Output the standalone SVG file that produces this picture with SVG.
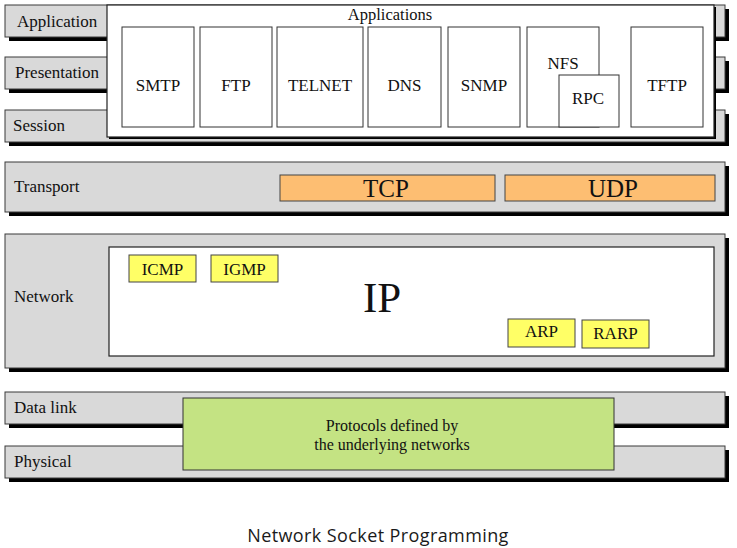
<svg xmlns="http://www.w3.org/2000/svg" width="737" height="548" viewBox="0 0 737 548">
<style>
text{font-family:"Liberation Serif","Times New Roman",serif;fill:#111;}
.shadow{fill:#000;}
.bar{fill:#d9d9d9;stroke:#3a3a3a;stroke-width:1;}
.white{fill:#fff;stroke:#222;stroke-width:1.2;}
.app{fill:#fff;stroke:#333;stroke-width:1;}
.lbl{font-size:17px;}
.ctr{text-anchor:middle;}
.orange{fill:#fdbe72;stroke:#444;stroke-width:1;}
.yellow{fill:#ffff66;stroke:#444;stroke-width:1;}
.green{fill:#c4e383;stroke:#333;stroke-width:1;}
.note{font-size:16px;}
.cap{font-family:"Open Sans","Noto Sans","Liberation Sans",sans-serif;font-size:18px;letter-spacing:0.4px;fill:#1a1a1a;}
</style>
<rect width="737" height="548" fill="#fff"/>

<g id="layer-application">
<rect class="shadow" x="9" y="9" width="720" height="32"/>
<rect class="bar" x="5" y="5" width="720" height="32"/>
<text class="lbl" x="17" y="27">Application</text>
</g>
<g id="layer-presentation">
<rect class="shadow" x="9" y="61" width="720" height="32"/>
<rect class="bar" x="5" y="57" width="720" height="32"/>
<text class="lbl" x="15" y="78">Presentation</text>
</g>
<g id="layer-session">
<rect class="shadow" x="9" y="114" width="720" height="32"/>
<rect class="bar" x="5" y="110" width="720" height="32"/>
<text class="lbl" x="13" y="131">Session</text>
</g>

<g id="applications">
<rect class="shadow" x="109" y="7" width="607" height="132"/>
<rect class="white" x="107" y="5" width="607" height="132"/>
<text class="ctr" x="390" y="20" font-size="16.5">Applications</text>
</g>
<g id="smtp"><rect class="app" x="122" y="27" width="72" height="100"/><text class="lbl ctr" x="158" y="91">SMTP</text></g>
<g id="ftp"><rect class="app" x="200" y="27" width="72" height="100"/><text class="lbl ctr" x="236" y="91">FTP</text></g>
<g id="telnet"><rect class="app" x="277" y="27" width="86" height="100"/><text class="lbl ctr" x="320" y="91">TELNET</text></g>
<g id="dns"><rect class="app" x="368" y="27" width="73" height="100"/><text class="lbl ctr" x="404.5" y="91">DNS</text></g>
<g id="snmp"><rect class="app" x="448" y="27" width="72" height="100"/><text class="lbl ctr" x="484" y="91">SNMP</text></g>
<g id="nfs"><rect class="app" x="527" y="27" width="72" height="100"/><text class="lbl ctr" x="563" y="69">NFS</text></g>
<g id="rpc"><rect class="app" x="559" y="75" width="60" height="52"/><text class="lbl ctr" x="588" y="104">RPC</text></g>
<g id="tftp"><rect class="app" x="631" y="27" width="72" height="100"/><text class="lbl ctr" x="667" y="91">TFTP</text></g>

<g id="layer-transport">
<rect class="shadow" x="9" y="166" width="720" height="50"/>
<rect class="bar" x="5" y="162" width="720" height="50"/>
<text class="lbl" x="14" y="192">Transport</text>
</g>
<g id="tcp"><rect class="orange" x="280" y="175" width="215" height="26"/><text class="ctr" x="386" y="197" font-size="25">TCP</text></g>
<g id="udp"><rect class="orange" x="505" y="175" width="210" height="26"/><text class="ctr" x="613" y="197" font-size="25">UDP</text></g>

<g id="layer-network">
<rect class="shadow" x="9" y="238" width="720" height="134"/>
<rect class="bar" x="5" y="234" width="720" height="134"/>
<text class="lbl" x="14" y="302">Network</text>
</g>
<g id="ip">
<rect class="white" x="109" y="247" width="605" height="109"/>
<text class="ctr" x="382" y="312" font-size="43">IP</text>
</g>
<g id="icmp"><rect class="yellow" x="129" y="255" width="67" height="27"/><text class="lbl ctr" x="162.5" y="275">ICMP</text></g>
<g id="igmp"><rect class="yellow" x="211" y="255" width="67" height="27"/><text class="lbl ctr" x="244.5" y="275">IGMP</text></g>
<g id="arp"><rect class="yellow" x="508" y="319" width="67" height="28"/><text class="lbl ctr" x="541.5" y="337">ARP</text></g>
<g id="rarp"><rect class="yellow" x="582" y="320" width="67" height="28"/><text class="lbl ctr" x="615.5" y="339">RARP</text></g>

<g id="layer-datalink">
<rect class="shadow" x="9" y="396" width="720" height="32"/>
<rect class="bar" x="5" y="392" width="720" height="32"/>
<text class="lbl" x="14" y="413">Data link</text>
</g>
<g id="layer-physical">
<rect class="shadow" x="9" y="450" width="720" height="32"/>
<rect class="bar" x="5" y="446" width="720" height="32"/>
<text class="lbl" x="14" y="467">Physical</text>
</g>
<g id="underlying-networks">
<rect class="green" x="183" y="398" width="431" height="72"/>
<text class="note ctr" x="392" y="431">Protocols defined by</text>
<text class="note ctr" x="392" y="450">the underlying networks</text>
</g>

<g id="connectors"></g>

<text class="cap ctr" x="378" y="542">Network Socket Programming</text>
</svg>
